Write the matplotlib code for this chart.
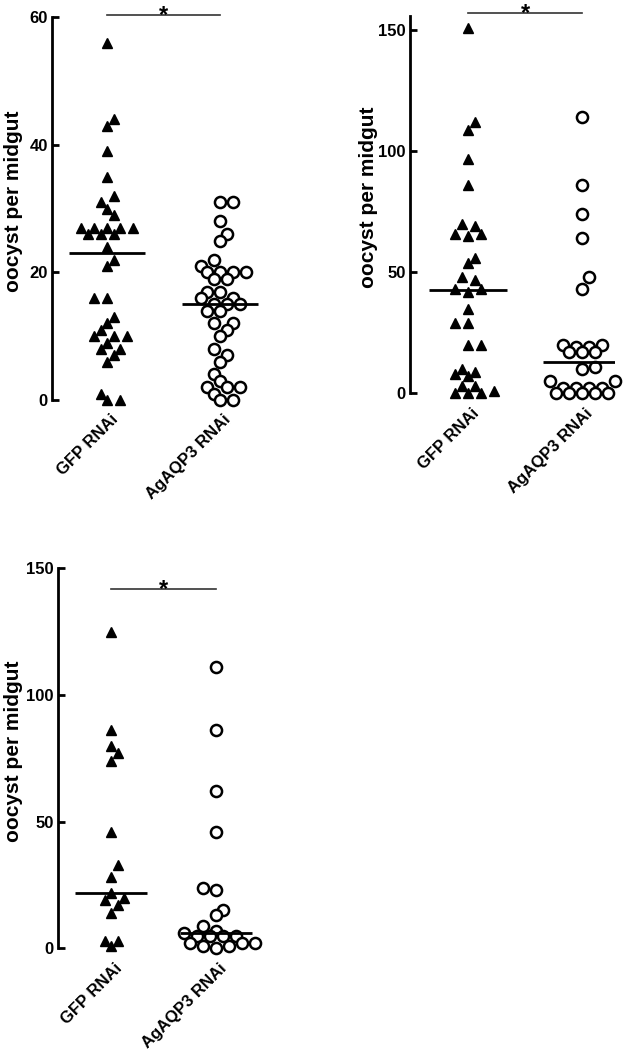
import matplotlib
matplotlib.use("Agg")
import matplotlib.pyplot as plt
import numpy as np

plt.rcParams["font.family"] = ["Liberation Sans", "DejaVu Sans"]
plt.rcParams["font.weight"] = "bold"

# ── Data ─────────────────────────────────────────────────────────────────────
groups = ["GFP RNAi", "AgAQP3 RNAi"]
ylabel = "oocyst per midgut"

p1_gfp = [56, 44, 43, 39, 35, 32, 31, 30, 29, 27, 27, 27, 27, 27, 26, 26, 26,
          24, 22, 21, 16, 16, 13, 12, 11, 10, 10, 10, 9, 8, 8, 7, 6, 1, 0, 0]
p1_aqp = [31, 31, 28, 26, 25, 22, 21, 20, 20, 20, 20, 19, 19, 17, 17, 16, 16,
          15, 15, 15, 14, 14, 12, 12, 11, 10, 8, 7, 6, 4, 3, 2, 2, 2, 1, 0, 0]
p1_med = [23, 15]

p2_gfp = [151, 112, 109, 97, 86, 70, 69, 66, 66, 65, 56, 54, 48, 47, 43, 43,
          42, 35, 29, 29, 20, 20, 10, 9, 8, 7, 3, 3, 1, 0, 0, 0]
p2_aqp = [114, 86, 74, 64, 48, 43, 20, 20, 19, 19, 17, 17, 17, 11, 10, 5, 5,
          2, 2, 2, 2, 0, 0, 0, 0, 0]
p2_med = [42.5, 13]

p3_gfp = [125, 86, 80, 77, 74, 46, 33, 28, 22, 20, 19, 17, 14, 3, 3, 1]
p3_aqp = [111, 86, 62, 46, 24, 23, 15, 13, 9, 7, 6, 5, 5, 5, 5, 2, 2, 2, 1, 1, 0]
p3_med = [22, 6]

W, H = 623, 1050
fig = plt.figure(figsize=(W / 100, H / 100), dpi=100)
fig.patch.set_facecolor("white")


def px_rect(left, right, top, bottom):
    return [left / W, 1 - bottom / H, (right - left) / W, (bottom - top) / H]


def swarm_x(ax, center, values, s=13.0, dy_col=13.0, dy_half=4.0):
    """Prism-like scatter, done point by point from the bottom up.
    A point may not sit in the same column as one closer than dy_col px,
    nor half a slot away from one closer than dy_half px."""
    vals = np.asarray(values, float)
    pts = ax.transData.transform(np.column_stack([np.full(len(vals), center), vals]))
    xc = pts[0, 0]
    ys = pts[:, 1]
    offs = np.zeros(len(vals))
    placed = []

    def clash(o, y):
        for po, py in placed:
            dx, dy = abs(o - po), abs(y - py)
            if dx < 0.45 * s and dy < dy_col:
                return True
            if dx < 0.95 * s and dy < dy_half:
                return True
        return False

    for i in np.argsort(ys, kind="stable"):
        y = ys[i]
        near = [po for po, py in placed if abs(py - y) < 2 * dy_col]
        lean = np.sum(near) if near else 0.0
        first = -1 if lean > 0 else 1
        m = 0
        while True:
            mag = m * s / 2
            cands = [0.0] if m == 0 else [first * mag, -first * mag]
            hit = [c for c in cands if not clash(c, y)]
            if hit:
                o = hit[0]
                break
            m += 1
        offs[i] = o
        placed.append((o, y))
    back = ax.transData.inverted().transform(np.column_stack([xc + offs, ys]))
    return back[:, 0]


def panel(rect, xlim, ylim, yticks, gfp, aqp, med, sig_y, label_x):
    ax = fig.add_axes(rect)
    ax.set_xlim(*xlim)
    ax.set_ylim(*ylim)
    for s in ["top", "right", "bottom"]:
        ax.spines[s].set_visible(False)
    ax.spines["left"].set_linewidth(2)
    ax.set_yticks(yticks)
    ax.tick_params(axis="y", direction="in", length=5, width=2, labelsize=12, pad=3)
    ax.set_xticks([])

    xg = swarm_x(ax, 1, gfp)
    xa = swarm_x(ax, 2, aqp)
    ax.plot(xg, gfp, "^", color="black", ms=7.5, ls="none", clip_on=False, zorder=3)
    ax.plot(xa, aqp, "o", mfc="white", mec="black", mew=1.8, ms=8, ls="none",
            clip_on=False, zorder=3)

    for x, m in zip([1, 2], med):
        ax.hlines(m, x - 0.34, x + 0.34, color="black", lw=2, zorder=4)

    # significance bar
    ax.plot([1, 2], [sig_y, sig_y], color="#333333", lw=1.2, clip_on=False)
    ax.annotate("*", xy=(1.5, sig_y), xytext=(0, -5), textcoords="offset points",
                ha="center", va="baseline", fontsize=17, fontweight="bold",
                annotation_clip=False)

    for x, g in zip([1, 2], groups):
        ax.annotate(g, xy=(x, 0), xycoords=("data", "axes fraction"),
                    xytext=(6, -12.5), textcoords="offset points",
                    rotation=45, ha="right", va="center", rotation_mode="anchor",
                    fontsize=12, fontweight="bold", annotation_clip=False)

    ycen = rect[1] + rect[3] * 0.52
    fig.text(label_x / W, ycen, ylabel, rotation=90, ha="center", va="center",
             fontsize=15, fontweight="bold")
    return ax


# Panel 1: 0..60, spine at x=52px, GFP at 107px, AgAQP3 at 220px
panel(px_rect(52, 276.5, 17.3, 400), (0.513, 2.5), (0, 60), [0, 20, 40, 60],
      p1_gfp, p1_aqp, p1_med, 60.4, 14)

# Panel 2: 0..156, spine at x=410px
panel(px_rect(410, 615.2, 15.8, 393.3), (0.49, 2.29), (0, 156), [0, 50, 100, 150],
      p2_gfp, p2_aqp, p2_med, 157, 368)

# Panel 3: 0..150, spine at x=58px
panel(px_rect(58, 263.3, 568.4, 948.3), (0.495, 2.45), (0, 150), [0, 50, 100, 150],
      p3_gfp, p3_aqp, p3_med, 142, 14)

fig.savefig("out.png", dpi=100, facecolor="white")
